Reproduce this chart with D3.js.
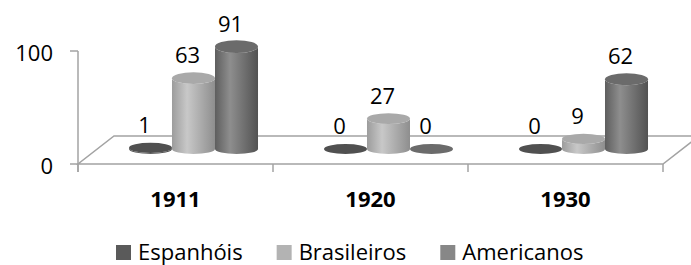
<!DOCTYPE html>
<html>
<head>
<meta charset="utf-8">
<script src="https://cdn.jsdelivr.net/npm/d3@7"></script>
<style>
  html, body { margin: 0; padding: 0; background: #fff; }
  svg { display: block; }
  text { font-family: "Open Sans", sans-serif; fill: #000; }
</style>
</head>
<body>
<svg id="chart" width="691" height="265"></svg>
<script>
const categories = ["1911", "1920", "1930"];
const seriesNames = ["Espanhóis", "Brasileiros", "Americanos"];
const espanhois = [1, 0, 0];
const brasileiros = [63, 27, 9];
const americanos = [91, 0, 62];
const yTicks = [0, 100];

const seriesValues = [espanhois, brasileiros, americanos];
const seriesColors = ["#5a5a5a", "#b3b3b3", "#878787"];
const gradStops = [
  ["#4a4a4a", "#6a6a6a", "#444444"],
  ["#9c9c9c", "#c8c8c8", "#8e8e8e"],
  ["#5e5e5e", "#8e8e8e", "#525252"]
];
const topColors = ["#505050", "#a9a9a9", "#6b6b6b"];

const svg = d3.select("#chart");

// floor geometry
const x0 = 78, x1 = 663, yFloor = 164;
const depthX = 36, depthY = -28;
const axisColor = "#a3a3a3";

const xBand = d3.scaleBand().domain(categories).range([x0, x1]).paddingInner(0).paddingOuter(0);
const xInner = d3.scaleBand().domain(d3.range(seriesNames.length)).range([0, xBand.bandwidth()]).paddingInner(0).paddingOuter(0.767);
const yFront = d3.scaleLinear().domain([0, 100]).range([yFloor, 51]);
const yMid = d3.scaleLinear().domain([0, 100]).range([yFloor + depthY / 2 - 1, yFloor + depthY / 2 - 1 - 112.5]);

// gradients
const defs = svg.append("defs");
gradStops.forEach((s, i) => {
  const g = defs.append("linearGradient").attr("id", "g" + i).attr("x1", "0").attr("x2", "1").attr("y1", "0").attr("y2", "0");
  g.append("stop").attr("offset", "0%").attr("stop-color", s[0]);
  g.append("stop").attr("offset", "35%").attr("stop-color", s[1]);
  g.append("stop").attr("offset", "100%").attr("stop-color", s[2]);
});

// floor
svg.append("polygon")
  .attr("points", [[x0, yFloor], [x1, yFloor], [x1 + depthX, yFloor + depthY], [x0 + depthX, yFloor + depthY]].map(p => p.join(",")).join(" "))
  .attr("fill", "#fff").attr("stroke", axisColor).attr("stroke-width", 1.5);

// vertical axis
svg.append("line").attr("x1", x0).attr("x2", x0).attr("y1", yFront(100)).attr("y2", yFloor + 8)
  .attr("stroke", axisColor).attr("stroke-width", 1.5);
yTicks.forEach(t => {
  svg.append("line").attr("x1", x0 - 8).attr("x2", x0).attr("y1", yFront(t)).attr("y2", yFront(t))
    .attr("stroke", axisColor).attr("stroke-width", 1.5);
  svg.append("text").attr("x", 53).attr("y", yFront(t) + 10).attr("text-anchor", "end")
    .attr("font-size", 22).text(t);
});
// bottom ticks
const edges = categories.map(c => xBand(c)).concat([x1]);
edges.forEach(e => {
  svg.append("line").attr("x1", e).attr("x2", e).attr("y1", yFloor).attr("y2", yFloor + 8)
    .attr("stroke", axisColor).attr("stroke-width", 1.5);
});

// category labels
categories.forEach(c => {
  svg.append("text").attr("x", xBand(c) + xBand.bandwidth() / 2).attr("y", 207)
    .attr("text-anchor", "middle").attr("font-size", 22).attr("font-weight", "bold").text(c);
});

// bars (cylinders)
const bars = [];
categories.forEach((c, ci) => {
  seriesValues.forEach((vals, si) => {
    bars.push({ c, ci, si, v: vals[ci] });
  });
});
const rx = xInner.bandwidth() / 2;
const gBars = svg.append("g");
bars.forEach(b => {
  const cx = xBand(b.c) + xInner(b.si) + rx + depthX / 2;
  const yb = yMid(0), yt = yMid(b.v);
  const ryB = 5, ryT = 5 + 1.5 * (b.v / 100);
  b.cx = cx; b.yt = yt;
  if (b.v > 0) {
    const d = `M${cx - rx},${yt} L${cx - rx},${yb} A${rx},${ryB} 0 0 0 ${cx + rx},${yb} L${cx + rx},${yt} A${rx},${ryT} 0 0 1 ${cx - rx},${yt} Z`;
    gBars.append("path").attr("d", d).attr("fill", `url(#g${b.si})`);
  }
  gBars.append("ellipse").attr("cx", cx).attr("cy", yt).attr("rx", rx).attr("ry", b.v > 0 ? ryT : ryB)
    .attr("fill", topColors[b.si]);
});

// value labels
bars.forEach(b => {
  svg.append("text").attr("x", b.cx - 6).attr("y", b.yt - 15).attr("text-anchor", "middle")
    .attr("font-size", 22).text(b.v);
});

// legend
const lg = svg.append("g");
let lx = 116;
seriesNames.forEach((n, i) => {
  lg.append("rect").attr("x", lx).attr("y", 245).attr("width", 15).attr("height", 15).attr("fill", seriesColors[i]);
  const t = lg.append("text").attr("x", lx + 22).attr("y", 259.5).attr("font-size", 22).text(n);
  const w = t.node().getComputedTextLength();
  lx = lx + 22 + w + 34;
});
</script>
</body>
</html>
